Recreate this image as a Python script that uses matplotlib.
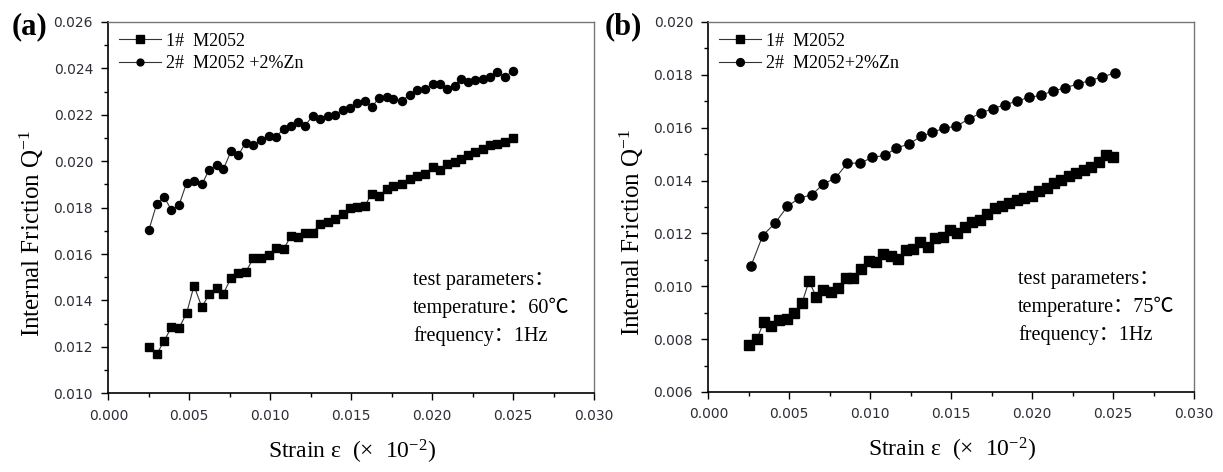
import matplotlib
matplotlib.use("Agg")
import matplotlib.pyplot as plt
from matplotlib.ticker import MultipleLocator, FormatStrFormatter

plt.rcParams['mathtext.fontset'] = 'custom'
plt.rcParams['mathtext.rm'] = 'Liberation Serif'
plt.rcParams['mathtext.it'] = 'Liberation Serif:italic'

SERIF = ['Liberation Serif', 'Noto Sans CJK SC']

# panel (a): 60 C
xa = [0.00251, 0.00299, 0.00344, 0.00389, 0.00436, 0.00484, 0.00529, 0.00578, 0.00622, 0.00669,
      0.00710, 0.00757, 0.00802, 0.00848, 0.00895, 0.00943, 0.00990, 0.01035, 0.01083, 0.01128,
      0.01173, 0.01216, 0.01262, 0.01307, 0.01354, 0.01401, 0.01447, 0.01490, 0.01536, 0.01583,
      0.01626, 0.01673, 0.01719, 0.01759, 0.01811, 0.01862, 0.01904, 0.01955, 0.02006, 0.02048,
      0.02089, 0.02140, 0.02181, 0.02222, 0.02264, 0.02315, 0.02356, 0.02398, 0.02449, 0.02500]
a_m2052 = [0.01200, 0.01169, 0.01225, 0.01284, 0.01280, 0.01347, 0.01463, 0.01371, 0.01427, 0.01454,
           0.01428, 0.01497, 0.01517, 0.01522, 0.01581, 0.01582, 0.01598, 0.01626, 0.01622, 0.01678,
           0.01674, 0.01692, 0.01691, 0.01731, 0.01737, 0.01753, 0.01774, 0.01800, 0.01803, 0.01806,
           0.01860, 0.01850, 0.01882, 0.01892, 0.01900, 0.01925, 0.01935, 0.01946, 0.01975, 0.01963,
           0.01989, 0.01996, 0.02011, 0.02028, 0.02039, 0.02054, 0.02068, 0.02075, 0.02082, 0.02099]
a_zn = [0.01705, 0.01817, 0.01846, 0.01791, 0.01810, 0.01908, 0.01913, 0.01900, 0.01963, 0.01982,
        0.01965, 0.02042, 0.02025, 0.02080, 0.02068, 0.02092, 0.02107, 0.02104, 0.02140, 0.02154,
        0.02168, 0.02154, 0.02196, 0.02180, 0.02193, 0.02201, 0.02222, 0.02230, 0.02250, 0.02258,
        0.02233, 0.02273, 0.02276, 0.02269, 0.02258, 0.02287, 0.02305, 0.02312, 0.02333, 0.02333,
        0.02312, 0.02326, 0.02355, 0.02340, 0.02348, 0.02355, 0.02362, 0.02383, 0.02365, 0.02387]

# panel (b): 75 C
xb1 = [0.00253, 0.00299, 0.00344, 0.00389, 0.00439, 0.00484, 0.00529, 0.00579, 0.00622, 0.00665,
       0.00711, 0.00758, 0.00803, 0.00851, 0.00896, 0.00941, 0.00991, 0.01036, 0.01081, 0.01127,
       0.01172, 0.01219, 0.01266, 0.01308, 0.01357, 0.01402, 0.01448, 0.01493, 0.01538, 0.01584,
       0.01630, 0.01676, 0.01721, 0.01768, 0.01813, 0.01859, 0.01905, 0.01951, 0.01997, 0.02043,
       0.02089, 0.02135, 0.02180, 0.02227, 0.02272, 0.02318, 0.02364, 0.02410, 0.02456, 0.02502]
b_m2052 = [0.00778, 0.00801, 0.00866, 0.00850, 0.00873, 0.00878, 0.00898, 0.00938, 0.01020, 0.00961,
           0.00986, 0.00978, 0.00995, 0.01033, 0.01033, 0.01066, 0.01096, 0.01091, 0.01122, 0.01116,
           0.01105, 0.01138, 0.01140, 0.01166, 0.01148, 0.01184, 0.01188, 0.01214, 0.01203, 0.01225,
           0.01245, 0.01250, 0.01275, 0.01296, 0.01302, 0.01315, 0.01327, 0.01334, 0.01340, 0.01359,
           0.01372, 0.01391, 0.01403, 0.01416, 0.01428, 0.01441, 0.01453, 0.01472, 0.01498, 0.01491]
xb2 = [0.00262, 0.00336, 0.00412, 0.00488, 0.00562, 0.00639, 0.00710, 0.00784, 0.00859, 0.00939,
       0.01013, 0.01090, 0.01161, 0.01242, 0.01312, 0.01384, 0.01458, 0.01530, 0.01612, 0.01684,
       0.01757, 0.01833, 0.01905, 0.01981, 0.02053, 0.02131, 0.02203, 0.02282, 0.02358, 0.02430,
       0.02512]
b_zn = [0.01075, 0.01192, 0.01239, 0.01302, 0.01334, 0.01346, 0.01387, 0.01409, 0.01466, 0.01466,
        0.01488, 0.01495, 0.01523, 0.01539, 0.01567, 0.01582, 0.01599, 0.01605, 0.01634, 0.01656,
        0.01672, 0.01687, 0.01700, 0.01715, 0.01722, 0.01740, 0.01750, 0.01766, 0.01778, 0.01792,
        0.01807]

panels = [
    dict(rect=[0.0886, 0.1667, 0.3971, 0.7867], tag='(a)', tagx=0.024,
         x1=xa, y1=a_m2052, x2=xa, y2=a_zn, ylim=(0.010, 0.026),
         lab2='2#  M2052 +2%Zn', temp='60℃', txtx=0.627, ms=(6.3, 5.8)),
    dict(rect=[0.5792, 0.1695, 0.3971, 0.7839], tag='(b)', tagx=0.510,
         x1=xb1, y1=b_m2052, x2=xb2, y2=b_zn, ylim=(0.006, 0.020),
         lab2='2#  M2052+2%Zn', temp='75℃', txtx=0.638, ms=(6.6, 6.6)),
]

fig = plt.figure(figsize=(12.23, 4.72), dpi=100)

for p in panels:
    ax = fig.add_axes(p['rect'])
    ax.plot(p['x1'], p['y1'], '-', color='#333333', lw=0.8, marker='s', ms=p['ms'][0],
            mfc='black', mec='black', label='1#  M2052')
    ax.plot(p['x2'], p['y2'], '-', color='#333333', lw=0.8, marker='o', ms=p['ms'][1],
            mfc='black', mec='black', label=p['lab2'])
    ax.set_xlim(0, 0.030)
    ax.set_ylim(*p['ylim'])
    ax.xaxis.set_major_locator(MultipleLocator(0.005))
    ax.xaxis.set_minor_locator(MultipleLocator(0.0025))
    ax.yaxis.set_major_locator(MultipleLocator(0.002))
    ax.yaxis.set_minor_locator(MultipleLocator(0.001))
    ax.xaxis.set_major_formatter(FormatStrFormatter('%.3f'))
    ax.yaxis.set_major_formatter(FormatStrFormatter('%.3f'))
    ax.tick_params(which='major', direction='out', length=5, width=1, pad=6,
                   labelsize=10, labelcolor='#2e2e38', top=False, right=False)
    ax.tick_params(which='minor', direction='out', length=3, width=1, top=False, right=False)
    for lbl in ax.get_xticklabels() + ax.get_yticklabels():
        lbl.set_family('DejaVu Sans')
    ax.spines['left'].set_linewidth(1.2)
    ax.spines['bottom'].set_linewidth(1.2)
    for s in ['top', 'right']:
        ax.spines[s].set_color('#777777')
        ax.spines[s].set_linewidth(1.0)

    ax.set_xlabel('Strain ε  (×  10$^{-2}$)', family=SERIF, fontsize=17, va='center')
    ax.xaxis.set_label_coords(0.501, -0.157)
    ax.set_ylabel('Internal Friction Q$^{-1}$', family=SERIF, fontsize=18, va='center')
    ax.yaxis.set_label_coords(-0.157, 0.432)

    leg = ax.legend(loc='upper left', bbox_to_anchor=(0.022, 0.971), frameon=False,
                    borderpad=0, borderaxespad=0, handlelength=2.3, handletextpad=0.3,
                    labelspacing=0.3, markerscale=0.85, prop={'family': SERIF, 'size': 13})

    lines = ['test parameters：', 'temperature：' + p['temp'], 'frequency：1Hz']
    for i, t in enumerate(lines):
        ax.text(p['txtx'], 0.305 - i * 0.0755, t, transform=ax.transAxes,
                family=SERIF, fontsize=14.5, va='center', ha='left')

    fig.text(p['tagx'], 0.943, p['tag'], family=SERIF, fontsize=22,
             fontweight='bold', ha='center', va='center')

fig.savefig('out.png', dpi=100)
